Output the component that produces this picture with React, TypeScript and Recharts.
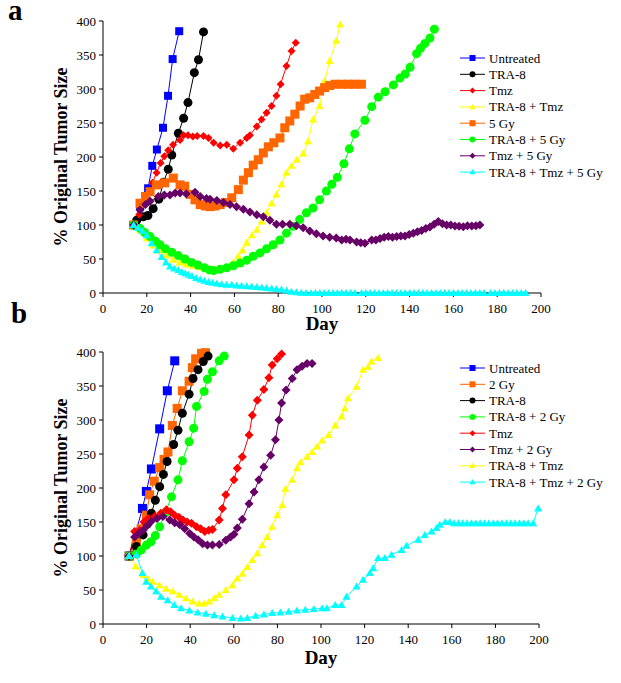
import { Line, LineChart, XAxis, YAxis } from "recharts";

// Two-panel tumour growth figure: % of original tumour size against day.
// Panel a: 5 Gy arms, panel b: 2 Gy arms.

type Pt = [number, number]; // [day, % original size]
type Shape = "square" | "circle" | "diamond" | "triangle";

const SERIF = '"Liberation Serif", "Times New Roman", serif';

const DAY_TICKS = [0, 20, 40, 60, 80, 100, 120, 140, 160, 180, 200];
const PCT_TICKS = [0, 50, 100, 150, 200, 250, 300, 350, 400];

// ---- panel a ----
const aUntreated: Pt[] = [[14, 100], [17, 128], [20.6, 154], [22.5, 187], [24.6, 211], [27.4, 243], [29.7, 290], [31.8, 344], [34.8, 385]];
const aTra8: Pt[] = [[14, 100], [15.4, 107], [18.4, 112], [20.5, 114], [22.9, 124], [25.5, 138], [27.7, 163], [29.8, 182], [31.4, 203], [34.4, 235], [36.8, 257], [38.8, 280], [41.7, 324], [43.6, 343], [45.9, 384]];
const aTmz: Pt[] = [[14, 100], [16.5, 115], [18.5, 130], [20.9, 146], [22.6, 162], [24.5, 177], [26.3, 191], [28, 201], [29.8, 210], [32, 218], [35.2, 225], [36.8, 232], [38.8, 232], [41, 230], [43, 231], [45.9, 231], [48.2, 228], [50.5, 221], [53.5, 217], [56.5, 218], [59.5, 212], [62.6, 221], [65.6, 228], [67.1, 232], [70.2, 245], [72.4, 255], [74.7, 265], [77, 275], [79.2, 290], [81.1, 307], [83.8, 334], [86.1, 356], [88, 368]];
const aTra8Tmz: Pt[] = [[14, 100], [17, 92], [20, 80], [23, 70], [26, 62], [29, 55], [32, 49], [35, 45], [38, 42], [41, 40], [44, 38], [47, 36], [50, 35], [53, 36], [56, 38], [59, 44], [61.8, 54], [63.7, 63], [65.6, 74], [68, 85], [70.2, 93], [72.5, 105], [74.7, 118], [77, 132], [79.2, 145], [81.5, 160], [83.8, 177], [86.1, 187], [88.5, 196], [91.4, 205], [93.6, 223], [95.9, 255], [98.9, 275], [101.2, 312], [103.5, 341], [106.5, 371], [108.3, 395]];
const a5Gy: Pt[] = [[14, 100], [16.9, 132], [19.4, 142], [21.5, 149], [24.4, 159], [28.2, 162], [32.1, 169], [35.2, 159], [37.3, 157], [39.8, 145], [42, 137], [44.4, 130], [46.7, 128], [48.9, 127], [51.2, 128], [53.5, 130], [55.8, 133], [58.8, 140], [61.8, 152], [64.1, 166], [66.4, 177], [68.6, 188], [70.9, 196], [73.2, 206], [75.5, 215], [78, 221], [80.8, 228], [83, 243], [85.3, 253], [87.6, 263], [90, 275], [92.1, 285], [94.4, 287], [96.7, 292], [98.9, 297], [101.2, 302], [103.5, 305], [106, 307], [109, 307], [112, 307], [115, 307], [118, 307]];
const aTra85Gy: Pt[] = [[14, 100], [16.9, 95], [19, 89], [21.5, 83], [24, 76], [26, 71], [28.5, 65], [31.4, 60], [34.4, 55], [37.4, 50], [40.4, 45], [43.4, 41], [46.4, 37], [48.5, 34], [50.5, 33], [53.5, 35], [56.5, 37], [59.5, 40], [62.6, 44], [65.6, 48], [68.6, 54], [71.7, 59], [74.7, 65], [77.7, 71], [80.8, 78], [83.8, 88], [86.8, 98], [89.8, 108], [92.9, 118], [95.9, 125], [98.9, 137], [102, 150], [104.5, 160], [107, 170], [110, 190], [112.5, 212], [115, 234], [119.6, 254], [122.7, 274], [125.7, 288], [128.8, 296], [132.6, 306], [135.6, 316], [138, 322], [140.2, 332], [143.2, 352], [145, 360], [147, 367], [149.3, 375], [151.3, 388]];
const aTmz5Gy: Pt[] = [[14, 100], [16.9, 122], [19.4, 130], [21.5, 135], [25.3, 142], [28, 144], [30.6, 144], [33, 147], [35.2, 147], [38, 146], [42, 148], [44.4, 142], [47.3, 139], [48.9, 138], [52, 136], [55, 133], [58, 130], [61, 127], [64.1, 123], [67.1, 119], [70.2, 115], [73.2, 112], [76.2, 107], [79.2, 101], [82, 101], [85.3, 101], [88.3, 99], [91.4, 96], [94.4, 91], [97.4, 87], [100.5, 84], [103.5, 82], [106.5, 81], [109, 78], [111, 79], [112.8, 78], [115.8, 75], [117.7, 74], [119.6, 73], [122.7, 78], [124.6, 78], [126.5, 80], [128.4, 82], [130.3, 83], [132.2, 82], [134.1, 83], [136, 84], [137.9, 84], [139.8, 86], [141.7, 88], [143.6, 90], [145.5, 92], [147.4, 95], [149.3, 97], [151.2, 101], [153.1, 105], [155, 102], [156.9, 100], [158.8, 100], [160.7, 98.5], [162.6, 98], [164.5, 97.5], [166.4, 99], [168.4, 98.5], [170.3, 99], [172.1, 100]];
const aTra8Tmz5Gy: Pt[] = [[14, 100], [16, 96], [18, 91], [20, 85], [22.2, 73], [24.5, 63], [26.8, 53], [28.8, 45], [30.6, 39], [32.5, 36], [34.4, 34], [36, 31], [37.6, 29], [39.1, 27], [40.6, 25], [42.5, 22], [44.4, 20], [46.3, 18], [48.2, 16], [50, 15], [52, 14], [54.2, 13], [56.5, 12], [58.8, 12], [61, 11], [63.3, 10.5], [65.6, 10], [67.9, 9.5], [70.2, 9], [72.5, 8], [74.7, 7.5], [77, 6.5], [79.2, 6], [81.5, 5], [83.8, 3.5], [86, 2], [88.3, 1], [90.5, 0.5], [92.7, 0], [95, 0], [97, 0], [99, 0], [101, 0], [103, 0], [105, 0], [107, 0], [109, 0], [111, 0], [113, 0], [115, 0], [118, 0], [120, 0], [122, 0], [124, 0], [126, 0], [128, 0], [130, 0], [132, 0], [134, 0], [136, 0], [138, 0], [140, 0], [142, 0], [144, 0], [146, 0], [148, 0], [150, 0], [152, 0], [154, 0], [156, 0], [158, 0], [160, 0], [162, 0], [164, 0], [166, 0], [168, 0], [170, 0], [172, 0], [174, 0], [177, 0], [179, 0], [181, 0], [183, 0], [185, 0], [187, 0], [189, 0], [191, 0], [193, 0]];

// ---- panel b ----
const bUntreated: Pt[] = [[12, 100], [18.1, 170], [19.9, 195], [22.2, 228], [26, 287], [29.5, 343], [32.9, 387]];
const b2Gy: Pt[] = [[12, 100], [15.3, 121], [17.5, 140], [19.9, 160], [21.4, 190], [23.5, 210], [26, 230], [28, 242], [29.8, 253], [31.8, 292], [34, 317], [36.4, 343], [39.5, 357], [41, 377], [42.5, 390], [45.2, 398], [47, 399]];
const bTra8: Pt[] = [[12, 100], [15.3, 114], [18.4, 131], [20.3, 147], [22.2, 163], [24, 182], [26, 202], [27.7, 220], [29.4, 239], [32.4, 264], [34.4, 285], [36.4, 310], [39.5, 338], [41.3, 361], [43.6, 374], [46, 386], [48.2, 394]];
const bTra82Gy: Pt[] = [[12, 100], [15.3, 103], [17.6, 109], [19.9, 116], [22, 121], [24, 130], [26, 143], [28.5, 163], [31.4, 187], [34.4, 212], [36.4, 240], [39.5, 268], [41.6, 288], [42.9, 320], [46.4, 342], [47.9, 360], [50.2, 371], [53.3, 387], [55.6, 394]];
const bTmz: Pt[] = [[12, 100], [14.5, 136], [16.8, 138], [18.8, 150], [20.7, 155], [23.7, 158], [26.5, 163], [29.1, 168], [31, 165], [32.9, 160], [34.8, 157], [36.7, 153], [38.6, 150], [40.6, 148], [42.9, 143], [44.8, 140], [46.7, 136], [48.5, 138], [50.2, 139], [53.3, 153], [54.8, 170], [56.3, 190], [60.1, 212], [61.6, 229], [63.9, 246], [67, 278], [68.5, 307], [70.8, 329], [73.8, 345], [76.1, 362], [77.6, 381], [79.9, 390], [81.9, 397]];
const bTmz2Gy: Pt[] = [[12, 100], [14.5, 128], [16.5, 133], [18.4, 138], [20.3, 145], [22.2, 151], [24.8, 155], [27.5, 158], [30.6, 153], [32.9, 149], [35.2, 146], [37.5, 140], [39.8, 133], [41.7, 128], [43.6, 124], [45.7, 118], [47.9, 116], [50.2, 116], [53.3, 117], [56.3, 123], [58.5, 128], [60.1, 132], [61.6, 141], [63.9, 154], [67, 177], [69.3, 194], [71.5, 212], [73.8, 231], [76.9, 248], [79.1, 271], [80.7, 300], [81.9, 325], [84, 344], [86.8, 361], [89, 374], [91.3, 379], [93.6, 383], [95.9, 383]];
const bTra8Tmz: Pt[] = [[12, 100], [15, 85], [18.3, 72], [20.5, 67], [22.8, 62], [25.9, 57], [28.9, 52], [32, 48], [35, 43], [38, 38], [41.1, 33], [44.1, 30], [46.4, 30], [48.7, 33], [51, 38], [53.3, 43], [56.3, 50], [59.4, 57], [61.6, 67], [63.9, 74], [66.2, 84], [68.5, 94], [70.8, 104], [73, 116], [75.3, 128], [77.6, 143], [79.9, 160], [82.2, 175], [83.7, 199], [86.8, 212], [89, 229], [90.6, 238], [93.6, 246], [95.9, 253], [98.2, 261], [100.5, 270], [103.5, 278], [106.5, 292], [109.4, 305], [110.9, 317], [112.4, 332], [116.3, 349], [119.3, 374], [121.6, 378], [123.2, 386], [126.2, 391]];
const bTra8Tmz2Gy: Pt[] = [[12, 100], [15.3, 102], [18.1, 75], [19.8, 62], [22, 55], [24.4, 48], [26.6, 40], [29.7, 35], [32.7, 28], [35.8, 23], [39.6, 20], [43.4, 17], [47.2, 15], [51, 13], [54.8, 11], [59.4, 9], [63.2, 8], [66.2, 9], [70, 12], [73.8, 14], [77.6, 16], [81.4, 17], [85.2, 18], [89, 20], [92.8, 21], [96.7, 22], [100.5, 23], [102.7, 23], [106.5, 28], [109.4, 28], [111.7, 40], [116.3, 55], [119.3, 65], [122.4, 75], [123.9, 82], [126.2, 97], [129.3, 97], [132.4, 102], [137, 109], [139.2, 115], [144.6, 124], [147.6, 131], [150.7, 136], [153, 141], [154.5, 146], [157, 150], [159.1, 150], [161, 148], [163, 148], [165, 148], [167, 148], [169, 148], [171, 148], [173, 148], [175, 148], [177, 148], [179, 148], [181, 148], [183, 148], [185, 148], [187, 148], [189, 148], [191, 148], [193, 148], [195, 148], [197.3, 148], [199.6, 170]];

const BLUE = "#0000ff";
const BLACK = "#000000";
const RED = "#ff0000";
const YELLOW = "#ffff00";
const ORANGE = "#ff6600";
const GREEN = "#00ff00";
const PURPLE = "#660066";
const CYAN = "#00ffff";

interface Series {
  name: string;
  pts: Pt[];
  color: string;
  shape: Shape;
  size: number;
}

const seriesA: Series[] = [
  { name: "Untreated", pts: aUntreated, color: BLUE, shape: "square", size: 8 },
  { name: "TRA-8", pts: aTra8, color: BLACK, shape: "circle", size: 9 },
  { name: "Tmz", pts: aTmz, color: RED, shape: "diamond", size: 8 },
  { name: "TRA-8 + Tmz", pts: aTra8Tmz, color: YELLOW, shape: "triangle", size: 8 },
  { name: "5 Gy", pts: a5Gy, color: ORANGE, shape: "square", size: 9 },
  { name: "TRA-8 + 5 Gy", pts: aTra85Gy, color: GREEN, shape: "circle", size: 9 },
  { name: "Tmz + 5 Gy", pts: aTmz5Gy, color: PURPLE, shape: "diamond", size: 9 },
  { name: "TRA-8 + Tmz + 5 Gy", pts: aTra8Tmz5Gy, color: CYAN, shape: "triangle", size: 8 },
];

const seriesB: Series[] = [
  { name: "Untreated", pts: bUntreated, color: BLUE, shape: "square", size: 9 },
  { name: "2 Gy", pts: b2Gy, color: ORANGE, shape: "square", size: 9 },
  { name: "TRA-8", pts: bTra8, color: BLACK, shape: "circle", size: 9 },
  { name: "TRA-8 + 2 Gy", pts: bTra82Gy, color: GREEN, shape: "circle", size: 9 },
  { name: "Tmz", pts: bTmz, color: RED, shape: "diamond", size: 9 },
  { name: "Tmz + 2 Gy", pts: bTmz2Gy, color: PURPLE, shape: "diamond", size: 9 },
  { name: "TRA-8 + Tmz", pts: bTra8Tmz, color: YELLOW, shape: "triangle", size: 8 },
  { name: "TRA-8 + Tmz + 2 Gy", pts: bTra8Tmz2Gy, color: CYAN, shape: "triangle", size: 8 },
];

function toRows(pts: Pt[]) {
  return pts.map(([day, pct]) => ({ day, pct }));
}

function Marker({ shape, cx, cy, size, color }: { shape: Shape; cx: number; cy: number; size: number; color: string }) {
  const h = size / 2;
  if (shape === "square") return <rect x={cx - h} y={cy - h} width={size} height={size} fill={color} />;
  if (shape === "circle") return <circle cx={cx} cy={cy} r={h} fill={color} />;
  if (shape === "diamond")
    return <path d={`M${cx},${cy - h}L${cx + h},${cy}L${cx},${cy + h}L${cx - h},${cy}Z`} fill={color} />;
  return <path d={`M${cx},${cy - h}L${cx + h},${cy + h * 0.75}L${cx - h},${cy + h * 0.75}Z`} fill={color} />;
}

function dotFor(s: Series) {
  return (p: any) => {
    if (p.cx == null || p.cy == null) return <g key={`e-${p.index}`} />;
    return (
      <g key={`d-${p.index}`}>
        <Marker shape={s.shape} cx={p.cx} cy={p.cy} size={s.size} color={s.color} />
      </g>
    );
  };
}

const ROW = 16.3;

// legend drawn as an overlay so it does not take space from the plot
function LegendBox({ series, left, top }: { series: Series[]; left: number; top: number }) {
  return (
    <svg width={160} height={series.length * ROW + 4} style={{ position: "absolute", left, top, display: "block" }}>
      {series.map((s, i) => {
        const y = 8 + i * ROW;
        return (
          <g key={s.name}>
            <line x1={2} x2={27} y1={y} y2={y} stroke={s.color} strokeWidth={1} />
            <Marker shape={s.shape} cx={14.5} cy={y} size={6} color={s.color} />
            <text x={31} y={y + 4.5} fontSize={13} fontFamily={SERIF} fill="#000">
              {s.name}
            </text>
          </g>
        );
      })}
    </svg>
  );
}

const yTitle = (p: any) => {
  const vb = p.viewBox ?? { x: 0, y: 0, width: 103, height: 272 };
  const cx = vb.x + 67;
  const cy = vb.y + vb.height / 2;
  return (
    <text x={cx} y={cy} transform={`rotate(-90 ${cx} ${cy})`} textAnchor="middle" fontFamily={SERIF} fontWeight="bold" fontSize={18} fill="#000">
      % Original Tumor Size
    </text>
  );
};

const dayTitle = (dy: number) => (p: any) => {
  const vb = p.viewBox ?? { x: 103, y: 0, width: 438, height: 47 };
  return (
    <text x={vb.x + vb.width / 2} y={vb.y + dy} textAnchor="middle" fontFamily={SERIF} fontWeight="bold" fontSize={19} fill="#000">
      Day
    </text>
  );
};

const tickStyle = { fill: "#000", fontSize: 13, fontFamily: SERIF };

function Panel({ series, height, top, right, dayDy }: { series: Series[]; height: number; top: number; right: number; dayDy: number }) {
  return (
    <LineChart width={621} height={height} margin={{ top, right, bottom: 0, left: 0 }}>
      <XAxis
        type="number"
        dataKey="day"
        domain={[0, 200]}
        ticks={DAY_TICKS}
        interval={0}
        height={height - top - 272}
        stroke="#000"
        tickSize={4}
        tickMargin={7}
        tick={tickStyle}
        label={{ content: dayTitle(dayDy) }}
      />
      <YAxis
        type="number"
        domain={[0, 400]}
        ticks={PCT_TICKS}
        interval={0}
        width={103}
        stroke="#000"
        tickSize={4}
        tickMargin={3}
        tick={tickStyle}
        label={{ content: yTitle }}
      />
      {series.map((s) => (
        <Line
          key={s.name}
          name={s.name}
          data={toRows(s.pts)}
          dataKey="pct"
          type="linear"
          stroke={s.color}
          strokeWidth={1}
          dot={dotFor(s)}
          activeDot={false}
          isAnimationActive={false}
        />
      ))}
    </LineChart>
  );
}

export default function App() {
  return (
    <div style={{ position: "absolute", left: 0, top: 0, width: 621, height: 683, background: "#fff", fontFamily: SERIF }}>
      <div style={{ position: "absolute", left: 0, top: 0 }}>
        <Panel series={seriesA} height={340} top={21} right={80} dayDy={37} />
      </div>
      <div style={{ position: "absolute", left: 0, top: 340 }}>
        <Panel series={seriesB} height={343} top={12} right={82} dayDy={40} />
      </div>
      <LegendBox series={seriesA} left={458} top={49.5} />
      <LegendBox series={seriesB} left={458} top={359.9} />
      <svg width={621} height={683} style={{ position: "absolute", left: 0, top: 0, pointerEvents: "none" }}>
        <text x={8} y={20} fontFamily={SERIF} fontWeight="bold" fontSize={29} fill="#000">a</text>
        <text x={11} y={323} fontFamily={SERIF} fontWeight="bold" fontSize={29} fill="#000">b</text>
      </svg>
    </div>
  );
}
